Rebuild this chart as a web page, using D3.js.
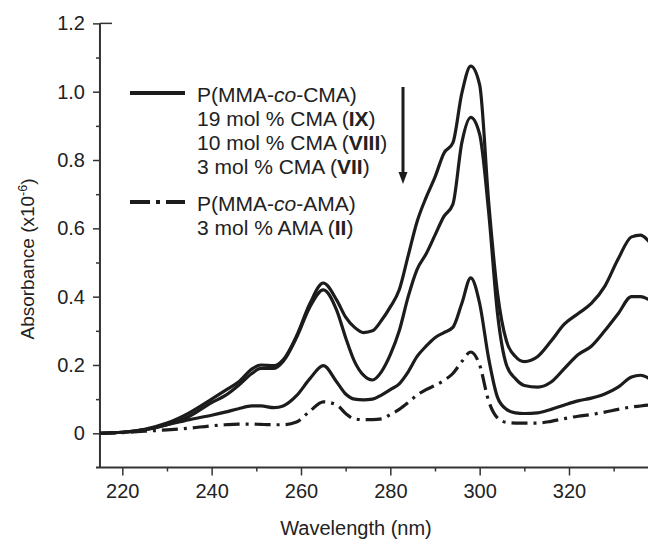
<!DOCTYPE html>
<html>
<head>
<meta charset="utf-8">
<script src="https://cdn.jsdelivr.net/npm/d3@7"></script>
<style>
  body { margin: 0; background: #fff; }
  svg { display: block; font-family: "Liberation Sans", Arial, sans-serif; }
</style>
</head>
<body>
<div id="chart"></div>
<script>

// wavelength grid (nm) shared by all spectra
var wavelength = [215, 220, 225, 230, 235, 240, 243, 246, 249, 251, 254, 256, 259, 262, 265, 268, 270, 272, 274, 276,
  278, 280, 282, 284, 286, 288, 290, 292, 294, 296, 298, 300, 302, 304, 306, 308, 310, 313, 316, 319,
  322, 325, 328, 331, 334, 336, 338]

// P(MMA-co-CMA) 19 mol % CMA (IX)
var abs_IX = [0, 0.003, 0.012, 0.03, 0.06, 0.10, 0.125, 0.15, 0.188, 0.2, 0.198, 0.215, 0.285, 0.38, 0.44, 0.39, 0.34, 0.31, 0.295, 0.3,
  0.33, 0.37, 0.42, 0.52, 0.62, 0.69, 0.75, 0.82, 0.85, 0.995, 1.075, 1.02, 0.68, 0.41, 0.27, 0.225, 0.21, 0.225, 0.27, 0.32,
  0.35, 0.38, 0.43, 0.51, 0.575, 0.58, 0.56]

// 10 mol % CMA (VIII)
var abs_VIII = [0, 0.003, 0.01, 0.025, 0.05, 0.09, 0.11, 0.14, 0.175, 0.19, 0.19, 0.21, 0.28, 0.37, 0.42, 0.36, 0.28, 0.21, 0.17, 0.156,
  0.18, 0.23, 0.30, 0.40, 0.48, 0.525, 0.58, 0.635, 0.67, 0.85, 0.925, 0.875, 0.65, 0.35, 0.20, 0.16, 0.14, 0.135, 0.15, 0.19,
  0.23, 0.255, 0.30, 0.35, 0.40, 0.40, 0.39]

// 3 mol % CMA (VII)
var abs_VII = [0, 0.003, 0.01, 0.025, 0.04, 0.053, 0.062, 0.072, 0.08, 0.08, 0.075, 0.08, 0.11, 0.16, 0.198, 0.15, 0.115, 0.1, 0.098, 0.1,
  0.112, 0.128, 0.145, 0.18, 0.225, 0.255, 0.28, 0.295, 0.31, 0.38, 0.455, 0.38, 0.22, 0.105, 0.07, 0.06, 0.058, 0.06, 0.07, 0.083,
  0.095, 0.103, 0.115, 0.135, 0.165, 0.17, 0.16]

// P(MMA-co-AMA) 3 mol % AMA (II)
var abs_II = [0, 0.002, 0.006, 0.01, 0.015, 0.022, 0.025, 0.027, 0.027, 0.026, 0.025, 0.025, 0.033, 0.065, 0.092, 0.083, 0.058, 0.042, 0.04, 0.04,
  0.042, 0.055, 0.07, 0.09, 0.112, 0.128, 0.14, 0.155, 0.175, 0.21, 0.238, 0.2, 0.095, 0.045, 0.032, 0.03, 0.03, 0.03, 0.035, 0.043,
  0.05, 0.055, 0.062, 0.07, 0.077, 0.08, 0.083]

var x_ticks = [220, 240, 260, 280, 300, 320]
var x_minor = [230, 250, 270, 290, 310, 330]
var y_ticks = [0, 0.2, 0.4, 0.6, 0.8, 1.0, 1.2]
var y_minor = [0.1, 0.3, 0.5, 0.7, 0.9, 1.1]

var width = 648
var height = 539
var ink = '#1c1c1c'
var font = '"Liberation Sans", Arial, sans-serif'

var svg = d3.select('#chart').append('svg')
  .attr('width', width)
  .attr('height', height)

var x = d3.scaleLinear().domain([220, 320]).range([122.3, 569])
var y = d3.scaleLinear().domain([0, 1.0]).range([433.3, 91.7])

var axis_y_pos = y(-0.1)
var axis_x_pos = x(215)

// x axis: major ticks with labels, minor ticks in their own group
svg.append('g')
  .attr('class', 'axis')
  .attr('transform', 'translate(0,' + axis_y_pos + ')')
  .call(d3.axisBottom(x).tickValues(x_ticks).tickSize(8).tickPadding(8).tickSizeOuter(0))
svg.append('g')
  .attr('class', 'axis')
  .attr('transform', 'translate(0,' + axis_y_pos + ')')
  .call(d3.axisBottom(x).tickValues(x_minor).tickSize(4).tickFormat('').tickSizeOuter(0))

// y axis
svg.append('g')
  .attr('class', 'axis')
  .attr('transform', 'translate(' + axis_x_pos + ',0)')
  .call(d3.axisLeft(y).tickValues(y_ticks).tickSize(7).tickPadding(8).tickSizeOuter(0)
    .tickFormat(function(d) { return d === 0 ? '0' : d3.format('.1f')(d) }))
svg.append('g')
  .attr('class', 'axis')
  .attr('transform', 'translate(' + axis_x_pos + ',0)')
  .call(d3.axisLeft(y).tickValues(y_minor).tickSize(4).tickFormat('').tickSizeOuter(0))

svg.selectAll('.axis .domain').remove()
svg.selectAll('.axis .tick line').attr('stroke', '#333').attr('stroke-width', 1.5)
svg.selectAll('.axis .tick text')
  .attr('fill', '#222')
  .style('font-size', '20px')
  .style('font-family', font)

// axis lines drawn by hand so they cross at the corner
svg.append('line')
  .attr('x1', axis_x_pos - 4).attr('x2', width)
  .attr('y1', axis_y_pos).attr('y2', axis_y_pos)
  .attr('stroke', '#333').attr('stroke-width', 2)
svg.append('line')
  .attr('x1', axis_x_pos).attr('x2', axis_x_pos)
  .attr('y1', y(1.2)).attr('y2', axis_y_pos)
  .attr('stroke', '#333').attr('stroke-width', 2)
// top tick also reaches into the plot
svg.append('line')
  .attr('x1', axis_x_pos).attr('x2', axis_x_pos + 12)
  .attr('y1', y(1.2)).attr('y2', y(1.2))
  .attr('stroke', '#333').attr('stroke-width', 1.5)

// axis titles
svg.append('text')
  .attr('x', 356).attr('y', 535)
  .attr('text-anchor', 'middle')
  .attr('fill', '#222')
  .style('font-size', '20px')
  .text('Wavelength (nm)')

var y_title = svg.append('text')
  .attr('transform', 'translate(34,259) rotate(-90)')
  .attr('text-anchor', 'middle')
  .attr('fill', '#222')
  .style('font-size', '19px')
y_title.append('tspan').text('Absorbance (x10')
y_title.append('tspan').attr('dy', -7).style('font-size', '12.5px').text('-6')
y_title.append('tspan').attr('dy', 7).text(')')

// spectra
var line = d3.line()
  .x(function(d) { return x(d[0]) })
  .y(function(d) { return y(d[1]) })
  .curve(d3.curveMonotoneX)

var plot = svg.append('g')

;[abs_IX, abs_VIII, abs_VII, abs_II].forEach(function(values, i) {
  var pts = wavelength.map(function(w, k) { return [w, values[k]] })
  plot.append('path')
    .datum(pts)
    .attr('d', line)
    .attr('fill', 'none')
    .attr('stroke', ink)
    .attr('stroke-width', 3.2)
    .attr('stroke-linejoin', 'round')
    .attr('stroke-dasharray', i === 3 ? '16,6,3,6' : null)
})

// legend
var legend = svg.append('g')
legend.append('line')
  .attr('x1', 130).attr('x2', 185).attr('y1', 93).attr('y2', 93)
  .attr('stroke', ink).attr('stroke-width', 4)
legend.append('line')
  .attr('x1', 130).attr('x2', 185).attr('y1', 202).attr('y2', 202)
  .attr('stroke', ink).attr('stroke-width', 4)
  .attr('stroke-dasharray', '20,6,4,6')

var legend_rows = [
  [['P(MMA-', ''], ['co', 'i'], ['-CMA)', '']],
  [['19 mol % CMA (', ''], ['IX', 'b'], [')', '']],
  [['10 mol % CMA (', ''], ['VIII', 'b'], [')', '']],
  [['3 mol % CMA (', ''], ['VII', 'b'], [')', '']],
  [['P(MMA-', ''], ['co', 'i'], ['-AMA)', '']],
  [['3 mol % AMA (', ''], ['II', 'b'], [')', '']]
]
var legend_y = [101.5, 126, 150, 174, 210.5, 234.5]

legend_rows.forEach(function(row, i) {
  var t = legend.append('text')
    .attr('x', 197).attr('y', legend_y[i])
    .attr('fill', '#222')
    .style('font-size', '21px')
  row.forEach(function(part) {
    var s = t.append('tspan').text(part[0])
    if (part[1] === 'b') s.style('font-weight', 'bold')
    if (part[1] === 'i') s.style('font-style', 'italic')
  })
})

// arrow showing decreasing CMA content
svg.append('line')
  .attr('x1', 403).attr('x2', 403).attr('y1', 87).attr('y2', 174)
  .attr('stroke', ink).attr('stroke-width', 3)
svg.append('path')
  .attr('d', 'M398.5,172 L407.5,172 L403,184 Z')
  .attr('fill', ink)

</script>
</body>
</html>
